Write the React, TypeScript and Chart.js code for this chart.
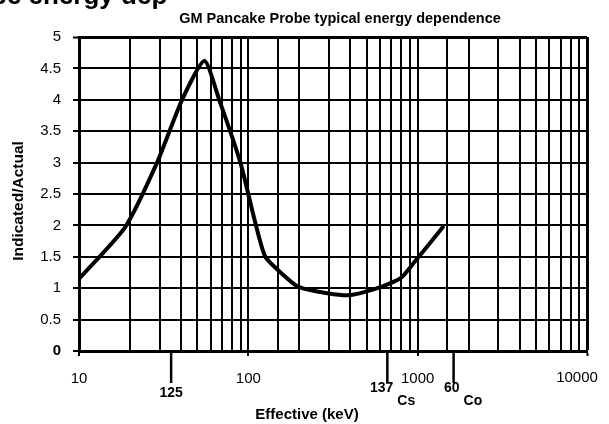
import React, { useEffect, useRef } from "react";
import { Chart, registerables } from "chart.js";

Chart.register(...registerables);

// Energy dependence curve (effective energy in keV vs indicated/actual ratio)
const energyKeV = [10, 18.7, 28.9, 40.6, 55, 67.3, 89.8, 110, 126, 161, 198, 293, 401, 580, 793, 947, 1406];
const response = [1.15, 1.97, 3.0, 4.0, 4.62, 4.0, 3.0, 2.04, 1.5, 1.21, 1.02, 0.92, 0.89, 1.0, 1.16, 1.4, 1.97];

// Isotope reference markers below the x axis
const markerEnergy = [35, 662, 1630];
const markerMass = ["125", "137", "60"];
const markerElement = ["", "Cs", "Co"];

const xMin = 10;
const xMax = 10000;
const yMin = 0;
const yMax = 5;
const yStep = 0.5;

const titleText = "GM Pancake Probe typical energy dependence";
const headerText = "pe energy dep";
const xTitle = "Effective (keV)";
const yTitle = "Indicated/Actual";

const FONT = '"Liberation Sans", Arial, Helvetica, sans-serif';

const isDecade = (v: number) => {
  const l = Math.log10(v);
  return Math.abs(l - Math.round(l)) < 1e-9;
};

export default function App() {
  const ref = useRef<HTMLCanvasElement | null>(null);

  useEffect(() => {
    document.body.style.margin = "0";
    const canvas = ref.current;
    if (!canvas) return;

    const textPlugin = {
      id: "texts",
      beforeDraw(chart: any) {
        const c = chart.ctx;
        c.save();
        c.fillStyle = "#ffffff";
        c.fillRect(0, 0, chart.width, chart.height);
        c.restore();
      },
      afterDraw(chart: any) {
        const c = chart.ctx;
        const xs = chart.scales.x;
        const area = chart.chartArea;
        c.save();
        c.fillStyle = "#000";
        c.strokeStyle = "#000";

        // clipped header at very top
        c.font = `bold 26px ${FONT}`;
        c.textAlign = "left";
        c.textBaseline = "alphabetic";
        c.fillText(headerText, -9, 4);

        // title
        c.font = `bold 14.5px ${FONT}`;
        c.textAlign = "center";
        c.textBaseline = "middle";
        c.fillText(titleText, 340, 19);

        // last decade label (kept inside the page like the original)
        c.font = `15px ${FONT}`;
        c.fillText(String(xMax), xs.getPixelForValue(xMax) - 10, 378);

        // x title
        c.font = `bold 15px ${FONT}`;
        c.fillText(xTitle, 307, 415);

        // y title
        c.save();
        c.translate(19, 201);
        c.rotate(-Math.PI / 2);
        c.font = `bold 15.5px ${FONT}`;
        c.fillText(yTitle, 0, 0);
        c.restore();

        // isotope markers
        c.lineWidth = 2.5;
        for (let i = 0; i < markerEnergy.length; i++) {
          const px = xs.getPixelForValue(markerEnergy[i]);
          c.beginPath();
          c.moveTo(px, area.bottom);
          c.lineTo(px, area.bottom + 32);
          c.stroke();
          c.font = `bold 14px ${FONT}`;
          if (markerElement[i] === "") {
            c.textAlign = "center";
            c.fillText(markerMass[i], px, 393);
          } else {
            c.textAlign = "right";
            c.fillText(markerMass[i], px + 6, 388);
            c.textAlign = "left";
            c.fillText(markerElement[i], px + 10, 401);
          }
        }
        c.restore();
      },
    };

    const chart = new Chart(canvas, {
      type: "line",
      data: {
        datasets: [
          {
            data: energyKeV.map((e, i) => ({ x: e, y: response[i] })),
            borderColor: "#000",
            borderWidth: 4,
            pointRadius: 0,
            fill: false,
            tension: 0.2,
            borderCapStyle: "round",
            borderJoinStyle: "round",
          },
        ],
      },
      options: {
        responsive: false,
        animation: false,
        events: [],
        layout: { padding: { top: 37, right: 22, left: 0, bottom: 0 } },
        plugins: {
          legend: { display: false },
          tooltip: { enabled: false },
          title: { display: false },
        },
        scales: {
          x: {
            type: "logarithmic",
            min: xMin,
            max: xMax,
            afterFit: (s: any) => {
              s.height = 73;
            },
            border: { display: true, color: "#000", width: 3 },
            grid: {
              color: "#000",
              lineWidth: (ctx: any) => (ctx.tick && (ctx.tick.value === xMax) ? 3 : 2),
              tickLength: 5,
              tickWidth: 2,
              tickColor: (ctx: any) => (ctx.tick && isDecade(ctx.tick.value) ? "#000" : "rgba(0,0,0,0)"),
            },
            ticks: {
              autoSkip: false,
              maxRotation: 0,
              padding: 14,
              color: "#000",
              font: { family: FONT, size: 15 },
              callback: (v: any) => {
                const n = Number(v);
                return isDecade(n) && n !== xMax ? String(n) : "";
              },
            },
          },
          y: {
            type: "linear",
            min: yMin,
            max: yMax,
            afterFit: (s: any) => {
              s.width = 79;
            },
            border: { display: true, color: "#000", width: 3 },
            grid: {
              color: "#000",
              lineWidth: (ctx: any) => (ctx.tick && ctx.tick.value === yMax ? 3 : 2),
              tickLength: 6,
              tickWidth: 2,
              tickColor: "#000",
            },
            ticks: {
              stepSize: yStep,
              padding: 12,
              color: "#000",
              font: (ctx: any) => ({
                family: FONT,
                size: 15,
                weight: ctx.tick && ctx.tick.value === 0 ? "bold" : "normal",
              }),
              callback: (v: any) => String(Number(v)),
            },
          },
        },
      },
      plugins: [textPlugin],
    } as any);

    return () => chart.destroy();
  }, []);

  return (
    <div style={{ position: "fixed", left: 0, top: 0, width: 609, height: 424, background: "#fff" }}>
      <canvas ref={ref} width={609} height={424} style={{ display: "block" }} />
    </div>
  );
}
